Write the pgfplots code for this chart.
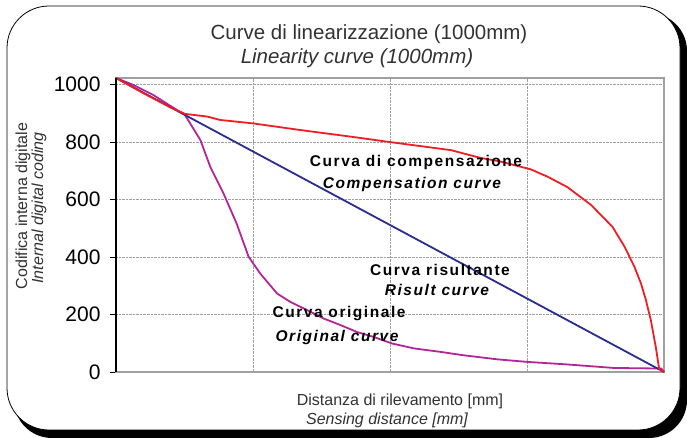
\documentclass[border=0pt]{standalone}
\usepackage{fontspec}
\setmainfont{Liberation Sans}
\newfontfamily\annotfont{Liberation Sans}[LetterSpace=10]
\usepackage{pgfplots}
\pgfplotsset{compat=1.18}
\definecolor{cred}{RGB}{238,30,36}
\definecolor{cblue}{RGB}{40,45,145}
\definecolor{cmag}{RGB}{178,38,150}
\definecolor{labgray}{RGB}{50,50,50}
\definecolor{framegray}{RGB}{160,160,160}

\pgfplotstableread{
x y
0 1023
1000 0
}\bluedata

\pgfplotstableread{
x y
0 1023
50 970
100 920
126 898
166 889
190 877
250 865
336 842
428 819
500 800
611 772
665 745
700 733
739 714
757 705
787 680
824 643
867 581
906 505
928 436
946 366
958 308
967 250
976 180
985 87
991 12
1000 0
}\reddata

\pgfplotstableread{
x y
0 1023
30 1000
68 964
100 925
126 894
154 807
172 714
196 622
220 517
242 401
263 343
294 273
318 244
349 215
379 186
410 163
440 139
470 122
504 99
544 82
592 70
635 58
696 44
751 35
818 27
909 14
995 12
1000 0
}\magdata

\begin{document}
\begin{tikzpicture}[x=1bp,y=1bp]
\useasboundingbox (0,0) rectangle (687,438);
\fill[black, rounded corners=38bp] (14,0) rectangle (687,425);
\draw[black, line width=0.8bp, fill=white, rounded corners=42bp] (7,8) rectangle (680,432);
\begin{axis}[at={(116bp,66bp)}, anchor=south west, scale only axis,
  width=548bp, height=294bp,
  xmin=0, xmax=1000, ymin=0, ymax=1023,
  xtick={250,500,750}, xticklabels={},
  xtick style={draw=none},
  ytick={0,200,400,600,800,1000},
  ytick pos=left, tick align=outside,
  major tick length=6bp,
  y tick style={black, line width=0.8bp},
  grid=major,
  major grid style={densely dotted, framegray, line width=0.7bp},
  axis line style={framegray, line width=1.6bp},
  /pgf/number format/assume math mode=true,
  /pgf/number format/1000 sep={},
  yticklabel style={font=\fontsize{21bp}{21bp}\selectfont, black, xshift=-6bp},
  clip=false,
]
\addplot[cmag, line width=1.8bp] table[x=x,y=y] {\magdata};
\addplot[cblue, line width=1.8bp] table[x=x,y=y] {\bluedata};
\addplot[cred, line width=1.8bp] table[x=x,y=y] {\reddata};
\draw[black, line width=1.3bp] (rel axis cs:0,0) -- (rel axis cs:0,1);
\end{axis}
% titles
\node[text=labgray, font=\fontsize{20.5bp}{22bp}\selectfont] at (369,404) {Curve di linearizzazione (1000mm)};
\node[text=labgray, font=\fontsize{20.5bp}{22bp}\selectfont\itshape] at (357,380) {Linearity curve (1000mm)};
% y label
\node[text=labgray, rotate=90, font=\fontsize{16bp}{18bp}\selectfont] at (23,232) {Codifica interna digitale};
\node[text=labgray, rotate=90, font=\fontsize{16bp}{18bp}\selectfont\itshape] at (39,230) {Internal digital coding};
% x label
\node[text=labgray, font=\fontsize{16bp}{18bp}\selectfont] at (400,37) {Distanza di rilevamento [mm]};
\node[text=labgray, font=\fontsize{16bp}{18bp}\selectfont\itshape] at (387,18) {Sensing distance [mm]};
% annotations
\node[font=\annotfont\bfseries\fontsize{15.5bp}{17bp}\selectfont] at (416,275) {Curva di compensazione};
\node[font=\annotfont\bfseries\itshape\fontsize{15.5bp}{17bp}\selectfont] at (412,253) {Compensation curve};
\node[font=\annotfont\bfseries\fontsize{15.5bp}{17bp}\selectfont] at (440,168) {Curva risultante};
\node[font=\annotfont\bfseries\itshape\fontsize{15.5bp}{17bp}\selectfont] at (437,148) {Risult curve};
\node[font=\annotfont\bfseries\fontsize{15.5bp}{17bp}\selectfont] at (339,124) {Curva originale};
\node[font=\annotfont\bfseries\itshape\fontsize{15.5bp}{17bp}\selectfont] at (337,101) {Original curve};
\end{tikzpicture}
\end{document}
